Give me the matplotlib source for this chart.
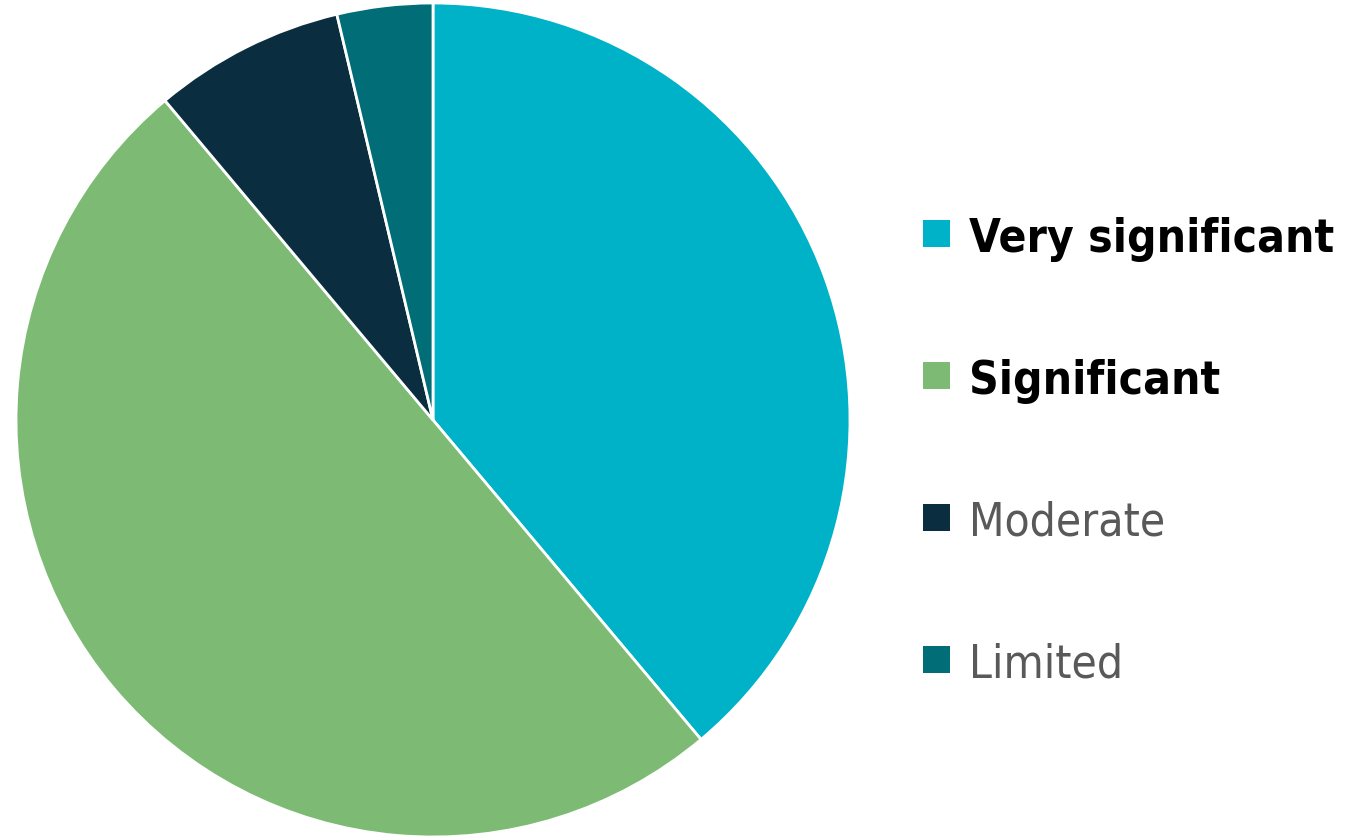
import matplotlib.pyplot as plt
from matplotlib.patches import Rectangle

# Share of responses
labels = ['Very significant', 'Significant', 'Moderate', 'Limited']
values = [21, 27, 4, 2]
colors = ['#00B2C8', '#7DBB75', '#0A2E40', '#006D77']
label_colors = ['#000000', '#000000', '#595959', '#595959']
label_weights = ['bold', 'bold', 'normal', 'normal']

W, H = 1345, 840
fig = plt.figure(figsize=(W / 100, H / 100), dpi=100)

# pie axes: centre (433, 420), radius 417 px
cx, cy, r = 433, 420, 417
ax = fig.add_axes([(cx - r) / W, (H - cy - r) / H, 2 * r / W, 2 * r / H])
ax.pie(values, colors=colors, startangle=90, counterclock=False,
       wedgeprops=dict(edgecolor='white', linewidth=2))
ax.set_xlim(-1, 1)
ax.set_ylim(-1, 1)
ax.set_aspect('equal')
ax.axis('off')

# hand-placed legend (pixel layout)
first_base, step = 252, 142
for i, (lab, c, tc, w) in enumerate(zip(labels, colors, label_colors, label_weights)):
    base = first_base + i * step
    fig.patches.append(Rectangle((923 / W, 1 - (base - 5) / H), 27 / W, 27 / H,
                                 transform=fig.transFigure, facecolor=c, edgecolor='none'))
    fig.text(969 / W, 1 - base / H, lab, color=tc, fontweight=w, fontsize=33,
             fontstretch='condensed', family=['DejaVu Sans'], va='baseline', ha='left')

fig.savefig('out.png', dpi=100)
